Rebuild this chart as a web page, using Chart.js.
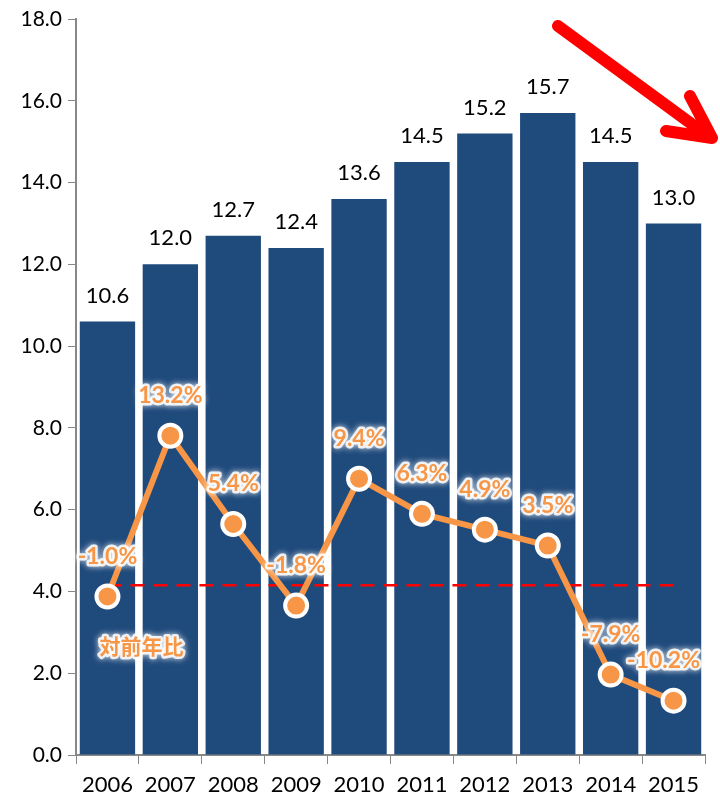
<!DOCTYPE html>
<html lang="ja">
<head>
  <meta charset="UTF-8">
  <title>Sales and YoY</title>
  <script src="https://cdn.jsdelivr.net/npm/chart.js"></script>
  <style>
    body { margin: 0; background: #fff; }
    canvas { display: block; }
  </style>
</head>
<body>
  <canvas id="chart" width="720" height="799"></canvas>
  <script>
    const years = ['2006', '2007', '2008', '2009', '2010', '2011', '2012', '2013', '2014', '2015'];
    const sales = [10.6, 12.0, 12.7, 12.4, 13.6, 14.5, 15.2, 15.7, 14.5, 13.0];
    const yoy = [-1.0, 13.2, 5.4, -1.8, 9.4, 6.3, 4.9, 3.5, -7.9, -10.2];
    const baseline = [0, 0, 0, 0, 0, 0, 0, 0, 0, 0];
    const yTicks = [0, 2, 4, 6, 8, 10, 12, 14, 16, 18];

    const numFont = 'Lato, "Open Sans", sans-serif';
    const orange = '#F79646';

    function glowText(ctx, txt, x, y) {
      ctx.save();
      ctx.shadowColor = '#fff';
      ctx.shadowBlur = 6;
      ctx.strokeStyle = 'rgba(255,255,255,0.85)';
      ctx.lineWidth = 5;
      ctx.lineJoin = 'round';
      ctx.strokeText(txt, x, y);
      ctx.shadowBlur = 0;
      ctx.fillStyle = orange;
      ctx.fillText(txt, x, y);
      ctx.restore();
    }

    // values above bars, % labels with white glow, note and arrow
    const labelPlugin = {
      id: 'labels',
      afterDatasetsDraw(chart) {
        const ctx = chart.ctx;
        const barMeta = chart.getDatasetMeta(0);
        ctx.save();
        ctx.font = '22px ' + numFont;
        ctx.fillStyle = '#000';
        ctx.textAlign = 'center';
        ctx.textBaseline = 'middle';
        barMeta.data.forEach((bar, i) => {
          ctx.fillText(sales[i].toFixed(1), bar.x, bar.y - 26);
        });

        const lineMeta = chart.getDatasetMeta(2);
        ctx.font = 'bold 23px ' + numFont;
        lineMeta.data.forEach((pt, i) => {
          const dx = i === 9 ? -10 : 0;
          glowText(ctx, yoy[i].toFixed(1) + '%', pt.x + dx, pt.y - 40);
        });

        // note under first point
        ctx.font = 'bold 21px "Noto Sans CJK JP", sans-serif';
        const p0 = lineMeta.data[0];
        glowText(ctx, '対前年比', p0.x + 34, p0.y + 50);

        // red arrow, top right
        ctx.strokeStyle = '#FF0000';
        ctx.lineWidth = 12;
        ctx.lineCap = 'round';
        ctx.lineJoin = 'round';
        ctx.beginPath();
        ctx.moveTo(558, 26);
        ctx.lineTo(708, 136);
        ctx.stroke();
        ctx.beginPath();
        ctx.moveTo(690, 96);
        ctx.lineTo(712, 138);
        ctx.lineTo(666, 131);
        ctx.stroke();
        ctx.restore();
      }
    };

    new Chart(document.getElementById('chart'), {
      type: 'bar',
      data: {
        labels: years,
        datasets: [
          {
            type: 'bar',
            data: sales,
            backgroundColor: '#1F4A7C',
            categoryPercentage: 1.0,
            barPercentage: 0.88,
            yAxisID: 'y',
            order: 3
          },
          {
            type: 'line',
            data: baseline,
            borderColor: '#FF0000',
            borderWidth: 2.5,
            borderDash: [14, 9],
            pointRadius: 0,
            yAxisID: 'y2',
            order: 2
          },
          {
            type: 'line',
            data: yoy,
            borderColor: orange,
            borderWidth: 6,
            pointRadius: 11,
            pointBorderWidth: 4,
            pointBackgroundColor: orange,
            pointBorderColor: '#fff',
            yAxisID: 'y2',
            order: 1
          }
        ]
      },
      options: {
        responsive: false,
        animation: false,
        layout: { padding: { top: 19, right: 8, left: 4, bottom: 0 } },
        plugins: { legend: { display: false }, tooltip: { enabled: false } },
        scales: {
          x: {
            afterFit(scale) { scale.height = 44; },
            grid: { offset: true, drawOnChartArea: false, drawTicks: true, tickLength: 9, color: '#888' },
            border: { color: '#888', width: 2 },
            ticks: { color: '#000', font: { family: numFont, size: 22 }, padding: 8 }
          },
          y: {
            min: 0,
            max: 18,
            afterFit(scale) { scale.width = 72; },
            afterBuildTicks(scale) { scale.ticks = yTicks.map(v => ({ value: v })); },
            grid: { drawOnChartArea: false, drawTicks: true, tickLength: 8, color: '#888' },
            border: { color: '#888', width: 2 },
            ticks: {
              color: '#000',
              font: { family: numFont, size: 21 },
              padding: 6,
              callback: v => Number(v).toFixed(1)
            }
          },
          y2: {
            display: false,
            min: -15,
            max: 50
          }
        }
      },
      plugins: [labelPlugin]
    });
  </script>
</body>
</html>
